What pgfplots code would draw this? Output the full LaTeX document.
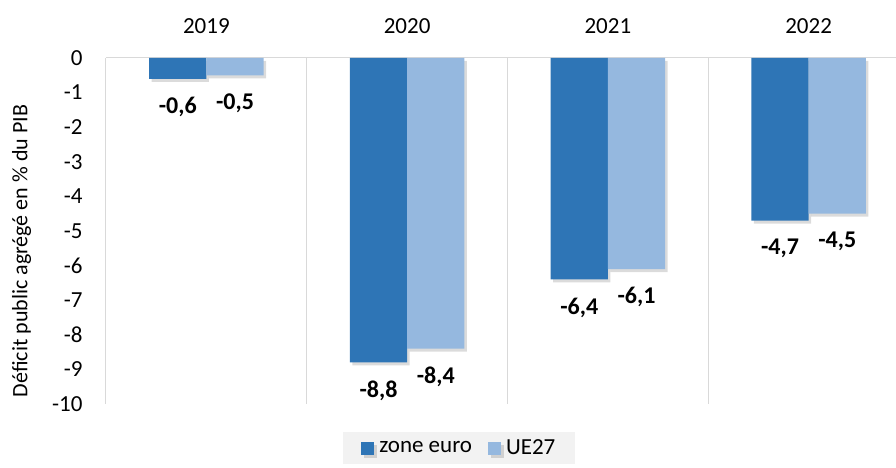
\documentclass[border=0pt]{standalone}
\usepackage{fontspec}
\setmainfont{Carlito}
\usepackage{pgfplots}
\pgfplotsset{compat=1.18}
\usetikzlibrary{shadows}

\definecolor{zoneeuro}{HTML}{2E75B6}
\definecolor{ue}{HTML}{95B8DF}
\definecolor{sep}{HTML}{D9D9D9}

\begin{document}
\begin{tikzpicture}
\begin{axis}[
    name=ax,
    scale only axis,
    width=803pt, height=346pt,
    ybar=0pt,
    bar width=0.285,
    xmin=-0.5, xmax=3.5,
    ymin=-10, ymax=0,
    xtick={0,1,2,3},
    xticklabels={2019,2020,2021,2022},
    xticklabel pos=upper,
    xticklabel style={yshift=21pt},
    minor xtick={-0.5,0.5,1.5,2.5,3.5},
    minor x grid style={sep, line width=1pt},
    xminorgrids=true,
    ytick={0,-1,...,-10},
    yticklabel style={xshift=-20pt},
    extra y ticks={0},
    extra y tick labels={},
    extra y tick style={grid=major, major grid style={sep, line width=1pt}},
    major tick length=0pt,
    minor tick length=0pt,
    axis line style={draw=none},
    ylabel={Déficit public agrégé en \% du PIB},
    ylabel style={font=\fontsize{22}{24}\selectfont, yshift=14pt, xshift=-20pt},
    tick label style={font=\fontsize{23}{25}\selectfont},
    /pgf/number format/assume math mode=true,
    /pgf/number format/.cd, use comma, fixed, fixed zerofill, precision=1, /pgfplots/.cd,
    yticklabel={\pgfmathprintnumber[precision=0,fixed zerofill=false]{\tick}},
    nodes near coords,
    nodes near coords style={font=\bfseries\fontsize{24}{26}\selectfont, anchor=north, yshift=-15pt, text=black},
    legend style={at={(0.44,-0.08)}, anchor=north, legend columns=2, fill=black!5, draw=none,
        font=\fontsize{23}{25}\selectfont, inner xsep=18pt, inner ysep=6pt,
        /tikz/every odd column/.append style={column sep=3pt},
        /tikz/every even column/.append style={column sep=14pt}},
    legend image code/.code={\fill[#1] (0pt,-6.5pt) rectangle (13pt,6.5pt);},
    every axis plot/.append style={draw=none},
]
\addplot[fill=zoneeuro, drop shadow={shadow xshift=2.5pt, shadow yshift=-3pt, opacity=0.2, fill=black!70}]
  coordinates {(0,-0.6) (1,-8.8) (2,-6.4) (3,-4.7)};
\addplot[fill=ue, drop shadow={shadow xshift=2.5pt, shadow yshift=-3pt, opacity=0.2, fill=black!70}]
  coordinates {(0,-0.5) (1,-8.4) (2,-6.1) (3,-4.5)};
\legend{zone euro, UE27}
\end{axis}
\pgfresetboundingbox
\path[use as bounding box] ([shift={(-106pt,-64pt)}]ax.south west) rectangle ([shift={(-13pt,58pt)}]ax.north east);
\end{tikzpicture}
\end{document}
